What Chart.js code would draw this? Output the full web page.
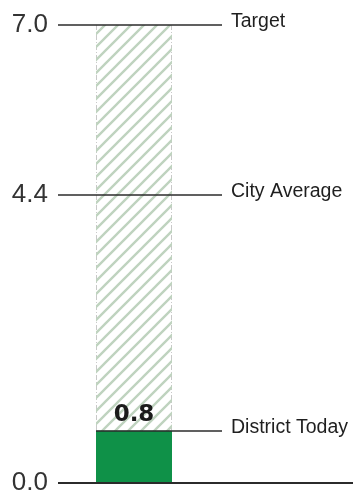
<!DOCTYPE html>
<html>
<head>
<meta charset="utf-8">
<script src="https://cdn.jsdelivr.net/npm/chart.js@4/dist/chart.umd.min.js"></script>
<style>
  html, body { margin: 0; padding: 0; background: #ffffff; }
  #wrap { width: 353px; height: 493px; position: relative; }
</style>
</head>
<body>
<div id="wrap"><canvas id="chart"></canvas></div>
<script>
// Values
const categories = ['District'];
const districtToday = [0.8];
const targetLevel = [7.0];
const tickValues = [0, 4.4, 7.0];
const markerLabels = ['Target', 'City Average', 'District Today'];
const markerValues = [7.0, 4.4, 0.8];

// Diagonal hatch used for the gap up to the target
function makeHatch() {
  const s = 13;
  const c = document.createElement('canvas');
  c.width = s; c.height = s;
  const g = c.getContext('2d');
  g.strokeStyle = '#bfd3bf';
  g.lineWidth = 2.4;
  g.beginPath();
  g.moveTo(-2, s + 2); g.lineTo(s + 2, -2);
  g.moveTo(-2, 2); g.lineTo(2, -2);
  g.moveTo(s - 2, s + 2); g.lineTo(s + 2, s - 2);
  g.stroke();
  return g.createPattern(c, 'repeat');
}

const LINE_END = 222;
const LABEL_X = 231;
const INK = '#2b2b2b';

// Reference lines, side borders of the hatched column, labels
const annotate = {
  id: 'annotate',
  beforeDatasetsDraw(chart) {
    const ctx = chart.ctx;
    const hatch = chart.getDatasetMeta(0).data[0];
    const half = hatch.width / 2;
    const top = hatch.y, bottom = hatch.base;
    ctx.save();
    ctx.strokeStyle = '#c9c9c9';
    ctx.lineWidth = 1;
    ctx.setLineDash([5, 2, 1, 2]);
    [hatch.x - half + 0.5, hatch.x + half - 0.5].forEach(x => {
      ctx.beginPath(); ctx.moveTo(x, top); ctx.lineTo(x, bottom); ctx.stroke();
    });
    ctx.restore();
  },
  afterDatasetsDraw(chart) {
    const ctx = chart.ctx;
    const y = chart.scales.y;
    const area = chart.chartArea;
    const bar = chart.getDatasetMeta(1).data[0];
    const barLeft = bar.x - bar.width / 2;
    ctx.save();
    ctx.strokeStyle = INK;
    ctx.lineWidth = 1.6;
    ctx.font = '19.5px "Liberation Sans", Arial, sans-serif';
    ctx.fillStyle = '#1f1f1f';
    ctx.textAlign = 'left';
    ctx.textBaseline = 'middle';
    markerValues.forEach((v, i) => {
      const py = Math.round(y.getPixelForValue(v));
      const x0 = i === markerValues.length - 1 ? barLeft : area.left;
      ctx.beginPath(); ctx.moveTo(x0, py); ctx.lineTo(LINE_END, py); ctx.stroke();
      ctx.fillText(markerLabels[i], LABEL_X, py - 3);
    });
    // baseline
    const by = Math.round(y.getPixelForValue(0));
    ctx.lineWidth = 2;
    ctx.beginPath(); ctx.moveTo(area.left, by); ctx.lineTo(chart.width, by); ctx.stroke();
    // value label above the green bar
    ctx.font = 'bold 23px "DejaVu Sans", sans-serif';
    ctx.fillStyle = '#1b1b1b';
    ctx.textAlign = 'center';
    ctx.textBaseline = 'alphabetic';
    ctx.fillText(districtToday[0].toFixed(1), bar.x, bar.y - 10);
    ctx.restore();
  }
};

new Chart(document.getElementById('chart'), {
  type: 'bar',
  data: {
    labels: categories,
    datasets: [
      {
        label: 'Target',
        data: targetLevel,
        backgroundColor: makeHatch(),
        borderWidth: 0,
        grouped: false,
        order: 2
      },
      {
        label: 'District Today',
        data: districtToday,
        backgroundColor: '#0f9148',
        borderWidth: 0,
        grouped: false,
        order: 1
      }
    ]
  },
  options: {
    responsive: true,
    maintainAspectRatio: false,
    animation: false,
    devicePixelRatio: 1,
    layout: { padding: { top: 25, bottom: 10, left: 0, right: 143 } },
    plugins: {
      legend: { display: false },
      tooltip: { enabled: false }
    },
    datasets: {
      bar: { barPercentage: 0.5, categoryPercentage: 1 }
    },
    scales: {
      x: { display: false },
      y: {
        min: 0,
        max: 7,
        border: { display: false },
        grid: { display: false, drawTicks: false },
        afterBuildTicks(scale) {
          scale.ticks = tickValues.map(v => ({ value: v }));
        },
        afterFit(scale) {
          scale.width = 58;
          scale.paddingTop = 0;
          scale.paddingBottom = 0;
        },
        ticks: {
          padding: 10,
          color: '#333333',
          font: { family: '"Liberation Sans", Arial, sans-serif', size: 26 },
          callback: v => Number(v).toFixed(1)
        }
      }
    }
  },
  plugins: [annotate]
});
</script>
</body>
</html>
